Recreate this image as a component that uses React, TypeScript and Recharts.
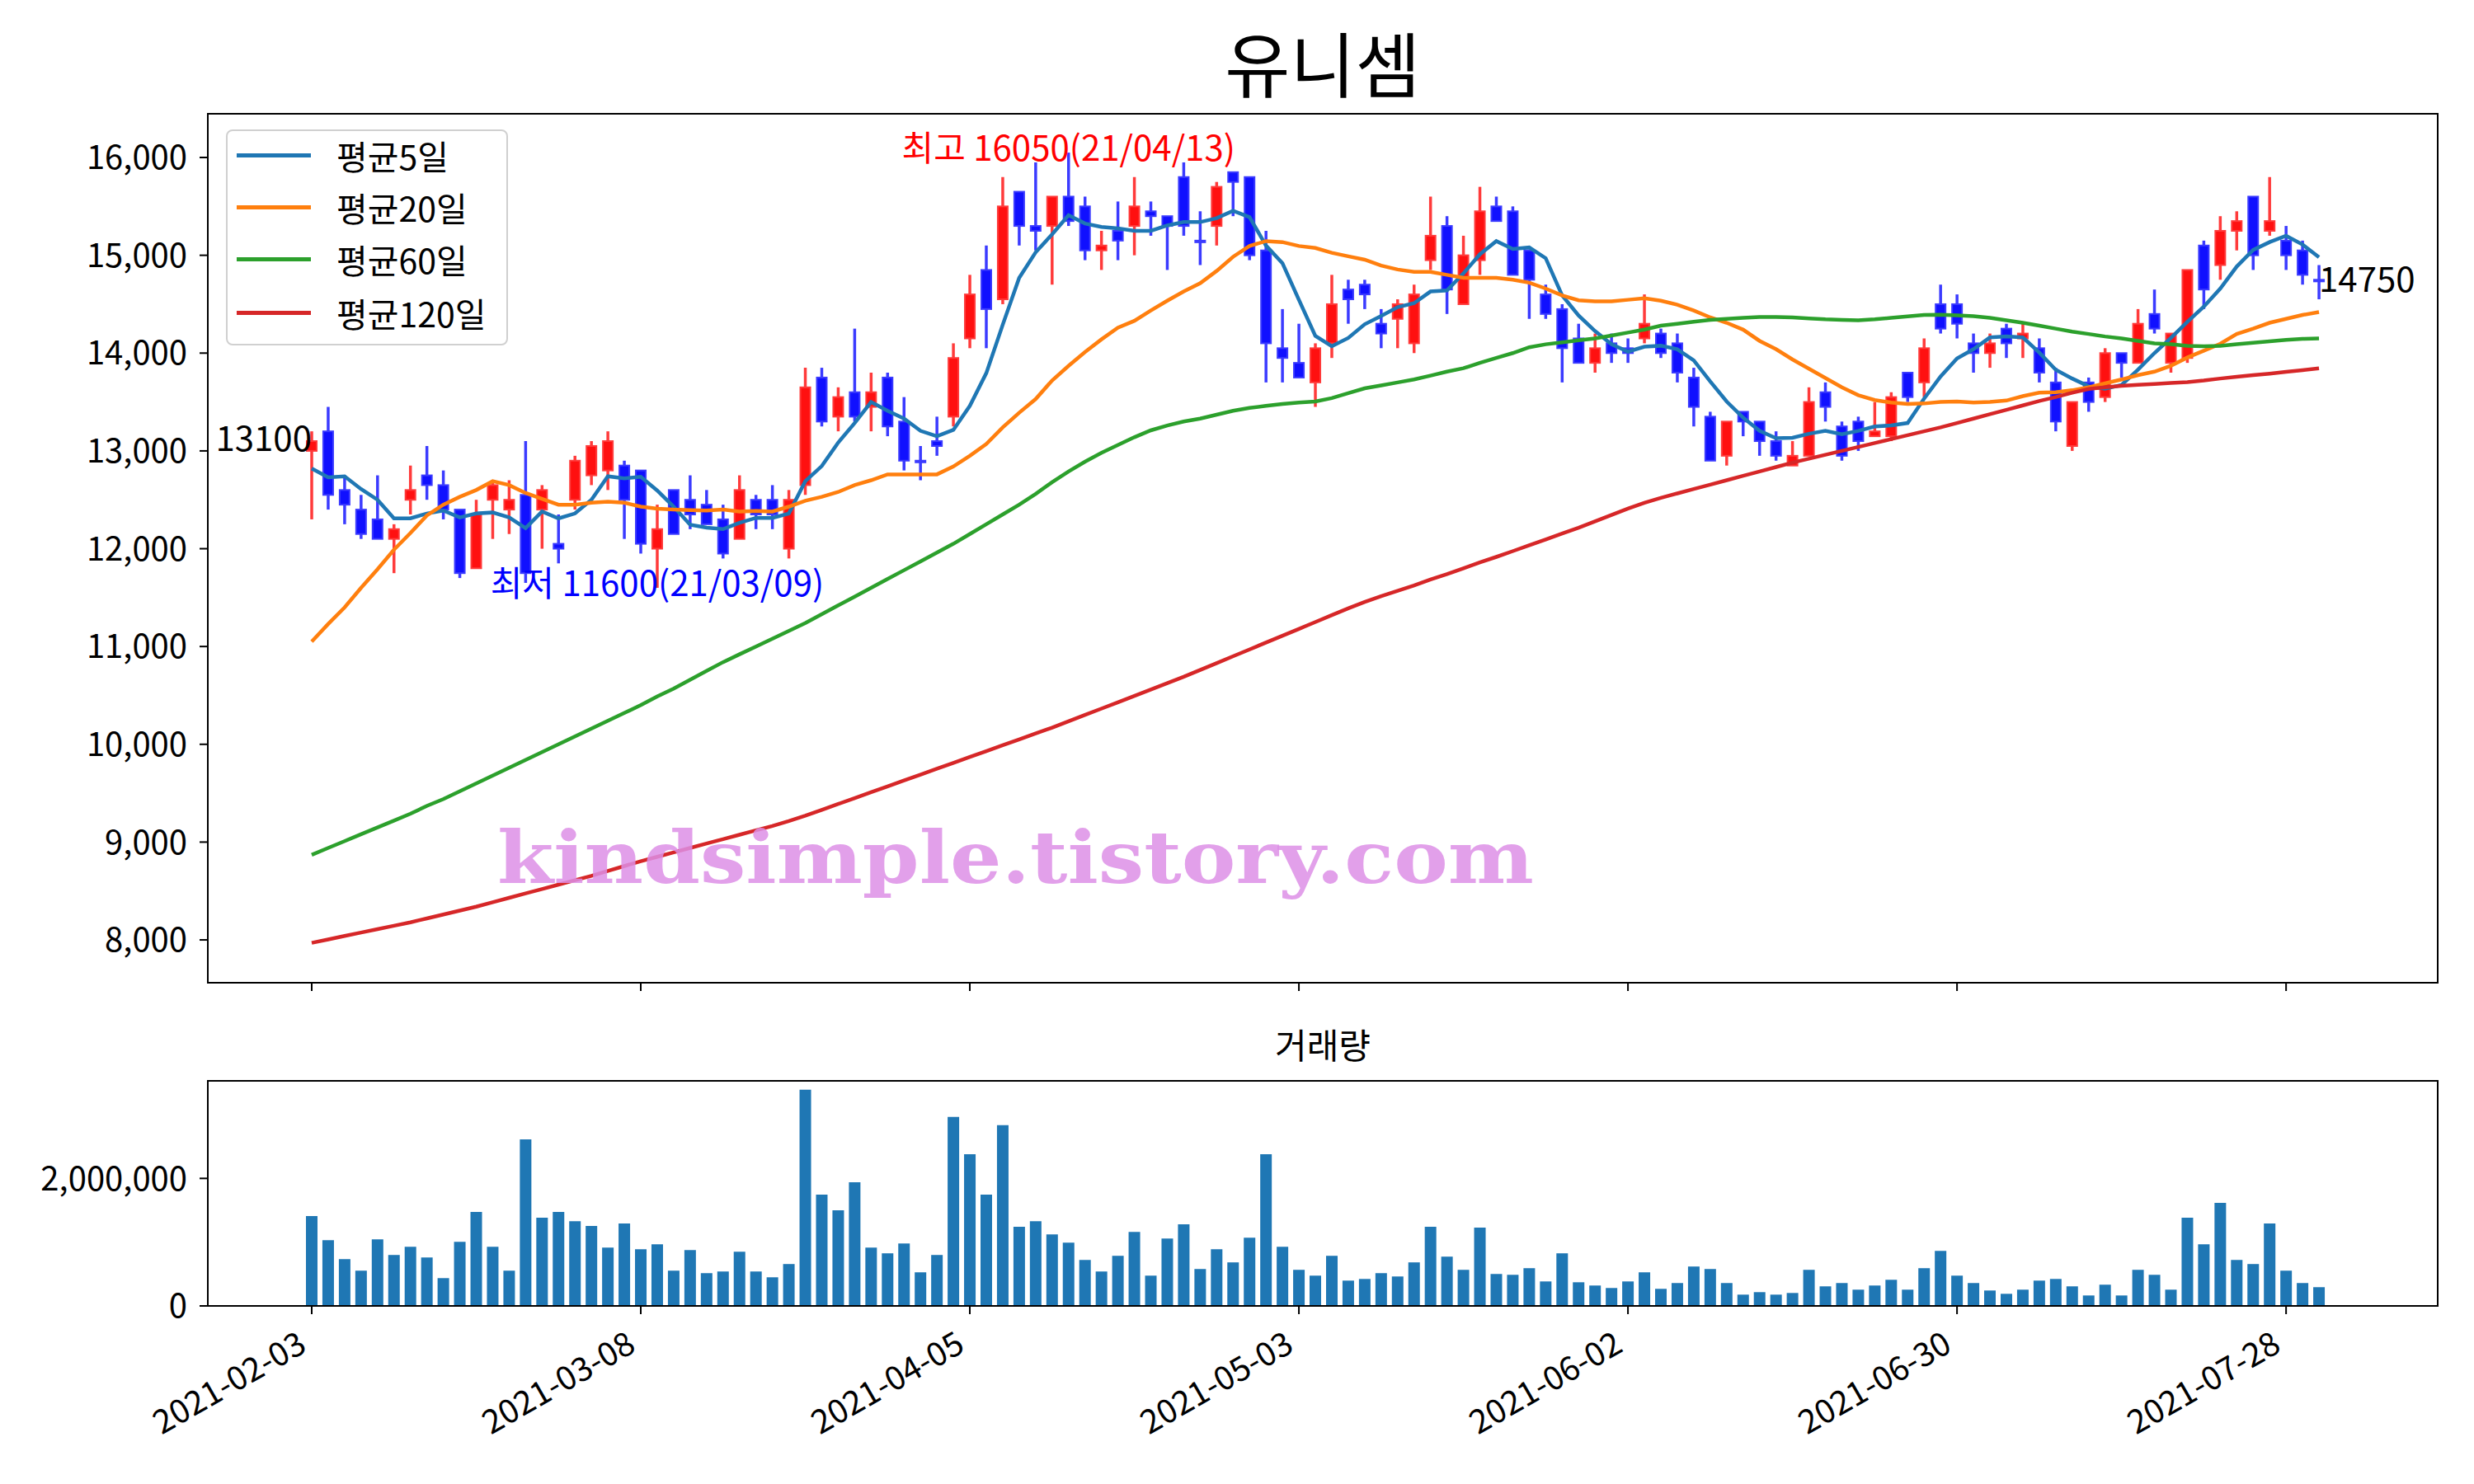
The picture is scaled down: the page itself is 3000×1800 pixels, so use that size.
import React from 'react';
import { ComposedChart, Bar, Line, XAxis, YAxis, ReferenceDot } from 'recharts';

// daily candles, 2021-02-03 .. 2021-07-30 (123 trading days)
const opens = [
  13000, 13200, 12600, 12400, 12300, 12100, 12500, 12750, 12650, 12400,
  11800, 12500, 12400, 12550, 12400, 12050, 12500, 12750, 12800, 12850,
  12800, 12000, 12600, 12500, 12450, 12300, 12100, 12500, 12500, 12000,
  12650, 13750, 13350, 13600, 13450, 13750, 13300, 12900, 13100, 13350,
  14150, 14850, 14550, 15650, 15300, 15300, 15600, 15500, 15050, 15250,
  15300, 15450, 15400, 15800, 15150, 15300, 15850, 15800, 15050, 14050,
  13900, 13700, 14100, 14650, 14700, 14300, 14350, 14100, 14950, 15300,
  14500, 14950, 15500, 15450, 15050, 14600, 14450, 14150, 13900, 14100,
  14050, 14150, 14200, 14100, 13750, 13350, 12950, 13400, 13300, 13100,
  12850, 12950, 13600, 13250, 13300, 13150, 13150, 13800, 13700, 14500,
  14500, 14100, 14000, 14250, 14150, 14050, 13700, 13050, 13700, 13550,
  14000, 13900, 14400, 13900, 13950, 15100, 14900, 15250, 15600, 15250,
  15150, 15050, 14750,
];
const highs = [
  13200, 13450, 12750, 12550, 12750, 12250, 12850, 13050, 12800, 12400,
  12500, 12700, 12700, 13100, 12650, 12350, 12950, 13100, 13200, 12900,
  12800, 12450, 12600, 12750, 12600, 12450, 12750, 12550, 12650, 12600,
  13850, 13850, 13650, 14250, 13800, 13800, 13550, 13050, 13350, 14100,
  14800, 15100, 15800, 15650, 15950, 15600, 16050, 15600, 15250, 15550,
  15800, 15550, 15400, 15950, 15450, 15750, 15850, 15800, 15250, 14450,
  14300, 14100, 14800, 14750, 14750, 14450, 14550, 14700, 15600, 15400,
  15200, 15700, 15600, 15500, 15050, 14700, 14500, 14300, 14200, 14200,
  14150, 14600, 14250, 14200, 13850, 13400, 13300, 13400, 13300, 13200,
  13100, 13650, 13700, 13300, 13350, 13500, 13600, 13800, 14150, 14700,
  14600, 14200, 14200, 14300, 14300, 14150, 13850, 13500, 13750, 14050,
  14000, 14450, 14650, 14200, 14850, 15150, 15400, 15450, 15600, 15800,
  15300, 15150, 14900,
];
const lows = [
  12300, 12400, 12250, 12100, 12100, 11750, 12350, 12500, 12300, 11700,
  11800, 12100, 12150, 11650, 12000, 11850, 12400, 12650, 12600, 12100,
  11950, 11600, 12150, 12200, 12250, 11900, 12100, 12200, 12200, 11900,
  12550, 13250, 13200, 13300, 13200, 13150, 12800, 12700, 12950, 13250,
  14050, 14050, 14500, 15100, 15050, 14700, 15300, 14950, 14850, 14950,
  15000, 15200, 14850, 15200, 14900, 15100, 15400, 14950, 13700, 13700,
  13750, 13450, 13950, 14300, 14450, 14050, 14050, 14000, 14850, 14400,
  14500, 14800, 15350, 14800, 14350, 14350, 13700, 13900, 13800, 13900,
  13900, 14100, 13950, 13700, 13250, 12900, 12850, 13150, 12950, 12900,
  12850, 12950, 13300, 12900, 13000, 13150, 13100, 13500, 13550, 14200,
  14150, 13800, 13850, 13950, 13950, 13700, 13200, 13000, 13400, 13500,
  13750, 13900, 14200, 13800, 13900, 14450, 14750, 15050, 14850, 15200,
  14850, 14700, 14550,
];
const closes = [
  13100, 12550, 12450, 12150, 12100, 12200, 12600, 12650, 12400, 11750,
  12350, 12650, 12500, 11750, 12600, 12000, 12900, 13050, 13100, 12500,
  12050, 12200, 12150, 12350, 12250, 11950, 12600, 12350, 12350, 12500,
  13650, 13300, 13550, 13350, 13600, 13250, 12900, 12900, 13050, 13950,
  14600, 14450, 15500, 15300, 15250, 15600, 15350, 15050, 15100, 15150,
  15500, 15400, 15300, 15300, 15150, 15700, 15750, 15000, 14100, 13950,
  13750, 14050, 14500, 14550, 14600, 14200, 14500, 14600, 15200, 14650,
  15000, 15450, 15350, 14800, 14750, 14400, 14050, 13900, 14050, 14000,
  14000, 14300, 14000, 13800, 13450, 12900, 13300, 13300, 13100, 12950,
  12950, 13500, 13450, 12950, 13100, 13200, 13550, 13550, 14050, 14250,
  14300, 14000, 14100, 14100, 14200, 13800, 13300, 13500, 13500, 14000,
  13900, 14300, 14250, 14200, 14850, 14650, 15250, 15350, 15000, 15350,
  15000, 14800, 14750,
];
const volumes = [
  1408000, 1032000, 734000, 553000, 1045000, 799000, 929000, 760000, 436000, 1006000,
  1473000, 929000, 553000, 2613000, 1382000, 1473000, 1330000, 1253000, 916000, 1292000,
  890000, 968000, 553000, 877000, 514000, 540000, 851000, 540000, 449000, 657000,
  3391000, 1745000, 1499000, 1940000, 916000, 825000, 981000, 527000, 799000, 2963000,
  2380000, 1745000, 2834000, 1240000, 1330000, 1123000, 994000, 721000, 540000, 786000,
  1162000, 475000, 1058000, 1279000, 579000, 890000, 683000, 1071000, 2380000, 929000,
  566000, 475000, 786000, 397000, 423000, 514000, 462000, 683000, 1240000, 773000,
  566000, 1227000, 501000, 488000, 592000, 384000, 825000, 371000, 320000, 281000,
  384000, 527000, 268000, 359000, 618000, 579000, 359000, 177000, 216000, 177000,
  203000, 566000, 307000, 359000, 255000, 320000, 410000, 255000, 592000, 864000,
  475000, 359000, 242000, 190000, 255000, 397000, 423000, 307000, 164000, 333000,
  164000, 566000, 488000, 255000, 1382000, 968000, 1616000, 721000, 657000, 1292000,
  553000, 359000, 294000,
];
const ma5 = [
  12820, 12730, 12740, 12610, 12500, 12310, 12310, 12360, 12390, 12320,
  12360, 12370, 12320, 12210, 12380, 12310, 12360, 12500, 12740, 12720,
  12735, 12595, 12430, 12245, 12215, 12200, 12265, 12315, 12315, 12360,
  12690, 12845, 13085, 13285, 13500, 13410, 13330, 13205, 13150, 13215,
  13460, 13795, 14290, 14770, 15030, 15215, 15410, 15325, 15290, 15275,
  15250, 15250, 15305, 15340, 15340, 15380, 15455, 15390, 15100, 14920,
  14545, 14175, 14070, 14155, 14295, 14380, 14470, 14510, 14630, 14640,
  14815, 15010, 15145, 15065, 15080, 14970, 14590, 14385, 14225, 14090,
  14015, 14065, 14075, 14040, 13925, 13710, 13505, 13340, 13205, 13130,
  13135, 13175, 13205, 13170, 13205, 13250, 13260, 13285, 13535, 13760,
  13945, 14040, 14160, 14170, 14160, 14005, 13830, 13740, 13660, 13635,
  13675, 13830, 14000, 14155, 14320, 14475, 14660, 14885, 15055, 15135,
  15200, 15110, 14980,
];
const ma20 = [
  11050, 11230, 11400, 11600, 11790, 11990, 12160, 12340, 12450, 12530,
  12600, 12690, 12650, 12570, 12510, 12450, 12450, 12470, 12480, 12470,
  12430, 12410, 12400, 12395, 12390, 12400, 12380, 12385, 12380, 12430,
  12490, 12530, 12580, 12650, 12700, 12760, 12760, 12760, 12760, 12840,
  12950, 13070, 13240, 13390, 13530, 13720, 13870, 14010, 14140, 14260,
  14330, 14435, 14535, 14630, 14715, 14840, 14985, 15095, 15145, 15135,
  15095, 15075, 15025, 14990, 14955, 14895, 14855, 14830, 14830, 14800,
  14770, 14770, 14770, 14750, 14720, 14660, 14590, 14540, 14530, 14530,
  14545, 14560, 14535, 14495, 14435, 14365, 14310, 14240, 14125, 14040,
  13935, 13840, 13745, 13650, 13570, 13520, 13495, 13480, 13485, 13500,
  13505, 13495, 13500, 13515, 13560, 13595, 13600, 13620, 13650, 13690,
  13730, 13775, 13810, 13870, 13955, 14025, 14095, 14195, 14250, 14310,
  14350, 14390, 14420,
];
const ma60 = [
  8870, 8940, 9010, 9080, 9150, 9220, 9290, 9370, 9440, 9520,
  9600, 9680, 9760, 9840, 9920, 10000, 10080, 10160, 10240, 10320,
  10400, 10490, 10570, 10660, 10750, 10840, 10920, 11000, 11080, 11160,
  11240, 11330, 11420, 11510, 11600, 11690, 11780, 11870, 11960, 12050,
  12150, 12250, 12350, 12450, 12560, 12680, 12790, 12890, 12980, 13060,
  13140, 13210, 13260, 13300, 13330, 13370, 13410, 13440, 13460, 13480,
  13495, 13505, 13540, 13590, 13640, 13670, 13700, 13730, 13770, 13810,
  13845, 13900, 13950, 14000, 14060, 14090, 14110, 14130, 14150, 14180,
  14210, 14240, 14280, 14300, 14320, 14340, 14350, 14360, 14370, 14370,
  14365, 14355, 14345, 14340, 14335, 14345, 14360, 14375, 14390, 14392,
  14385, 14378, 14360, 14335, 14310, 14280, 14250, 14220, 14195, 14170,
  14150, 14125, 14100, 14090, 14075, 14070, 14075, 14090, 14105, 14120,
  14135, 14145, 14150,
];
const ma120 = [
  7970, 8005, 8040, 8075, 8110, 8145, 8180, 8220, 8260, 8300,
  8340, 8385, 8430, 8475, 8520, 8565, 8610, 8655, 8705, 8755,
  8805, 8850, 8895, 8940, 8985, 9030, 9075, 9120, 9165, 9215,
  9270, 9330, 9390, 9450, 9510, 9570, 9630, 9690, 9750, 9810,
  9870, 9930, 9990, 10050, 10110, 10170, 10235, 10300, 10365, 10430,
  10495, 10560, 10625, 10690, 10760, 10830, 10900, 10970, 11040, 11110,
  11180, 11250, 11320, 11390, 11455, 11515, 11570, 11625, 11685, 11740,
  11800, 11860, 11916, 11975, 12035, 12095, 12155, 12215, 12280, 12345,
  12410, 12470, 12520, 12565, 12610, 12655, 12700, 12745, 12790, 12835,
  12880, 12920, 12960, 13000, 13040, 13080, 13120, 13160, 13200, 13240,
  13285, 13330, 13375, 13420, 13465, 13510, 13550, 13595, 13634, 13650,
  13665, 13676, 13685, 13695, 13704, 13720, 13740, 13757, 13774, 13790,
  13808, 13826, 13844,
];
const tickLabels = ['2021-02-03', '2021-03-08', '2021-04-05', '2021-05-03', '2021-06-02', '2021-06-30', '2021-07-28'];

const rows = closes.map((c, i) => ({
  idx: i,
  open: opens[i],
  high: highs[i],
  low: lows[i],
  close: c,
  vol: volumes[i],
  ma5: ma5[i],
  ma20: ma20[i],
  ma60: ma60[i],
  ma120: ma120[i],
}));

const FONT = '"Noto Sans CJK KR", "Noto Sans", sans-serif';
const TICK_FS = 40;
const ANNO_FS = 42;
const PAD = { left: 116, right: 134 };

const series = [
  { key: 'ma5', name: '평균5일', color: '#1f77b4' },
  { key: 'ma20', name: '평균20일', color: '#ff7f0e' },
  { key: 'ma60', name: '평균60일', color: '#2ca02c' },
  { key: 'ma120', name: '평균120일', color: '#d62728' },
];

const Candle = (props: any) => {
  const { x, y, width, height, payload } = props;
  if (!payload || height == null) return null;
  const { open, close, high, low } = payload;
  const up = close > open;
  const fill = up ? '#ff1010' : '#1010ff';
  const edge = up ? '#ff3b3b' : '#3b3bff';
  const span = high - low;
  const k = span > 0 ? height / span : 0;
  const py = (v: number) => y + (high - v) * k;
  const cx = x + width / 2;
  const top = py(Math.max(open, close));
  const bot = py(Math.min(open, close));
  return (
    <g>
      <line x1={cx} x2={cx} y1={y} y2={y + height} stroke={edge} strokeWidth={3.5} />
      <rect x={x + 1} y={top} width={width - 2} height={Math.max(bot - top, 2)} fill={fill} stroke={edge} strokeWidth={2} />
    </g>
  );
};

const AnnoLabel = (props: any) => {
  const { viewBox, text, color, anchor, dy = 0 } = props;
  if (!viewBox) return null;
  const cx = viewBox.x + (viewBox.width || 0) / 2;
  const cy = viewBox.y + (viewBox.height || 0) / 2 + dy;
  return (
    <text x={cx} y={cy} fill={color} textAnchor={anchor} dominantBaseline="central" fontSize={ANNO_FS} fontFamily={FONT}>
      {text}
    </text>
  );
};

const DateTick = (props: any) => {
  const { x, y, payload } = props;
  const label = tickLabels[Math.round(payload.value / 20)] || '';
  const bx = x - 4;
  const by = y + 44;
  return (
    <text x={bx} y={by} textAnchor="end" transform={`rotate(-30 ${bx} ${by})`} fontSize={TICK_FS} fontFamily={FONT} fill="#000">
      {label}
    </text>
  );
};

const fmt = (v: number) => v.toLocaleString('en-US');

const frame = (left: number, top: number, right: number, bottom: number): React.CSSProperties => ({
  position: 'absolute',
  left: left - 1,
  top: top - 1,
  width: right - left + 2,
  height: bottom - top + 2,
  border: '2px solid #000',
  boxSizing: 'border-box',
  pointerEvents: 'none',
});

export default function App() {
  return (
    <div style={{ position: 'absolute', left: 0, top: 0, width: 3000, height: 1800, background: '#fff', fontFamily: FONT }}>
      <div style={{ position: 'absolute', left: 0, width: 3208, top: 75, transform: 'translateY(-50%)', textAlign: 'center', fontSize: 86, lineHeight: 1 }}>
        유니셈
      </div>

      <div style={{ position: 'absolute', left: 0, top: 0 }}>
        <ComposedChart width={3000} height={1230} data={rows} margin={{ top: 138, right: 44, bottom: 18, left: 132 }}>
          <XAxis
            dataKey="idx"
            type="category"
            interval={19}
            padding={PAD}
            axisLine={false}
            tickLine={{ stroke: '#000', strokeWidth: 2 }}
            tickSize={10}
            tickFormatter={() => ''}
            height={20}
          />
          <YAxis
            type="number"
            domain={[7562, 16447]}
            allowDataOverflow
            ticks={[8000, 9000, 10000, 11000, 12000, 13000, 14000, 15000, 16000]}
            tickFormatter={fmt}
            width={120}
            axisLine={false}
            tickLine={{ stroke: '#000', strokeWidth: 2 }}
            tickSize={10}
            tickMargin={15}
            tick={{ fontSize: TICK_FS, fill: '#000', fontFamily: FONT }}
          />
          <Bar dataKey={(d: any) => [d.low, d.high]} barSize={14} shape={<Candle />} isAnimationActive={false} />
          {series.map((s) => (
            <Line key={s.key} type="linear" dataKey={s.key} stroke={s.color} strokeWidth={4.5} dot={false} activeDot={false} isAnimationActive={false} />
          ))}
          <ReferenceDot x={46} y={16050} r={1} fill="none" stroke="none" label={<AnnoLabel text="최고 16050(21/04/13)" color="#ff0000" anchor="middle" dy={-9} />} />
          <ReferenceDot x={21} y={11600} r={1} fill="none" stroke="none" label={<AnnoLabel text="최저 11600(21/03/09)" color="#0000ff" anchor="middle" dy={-8} />} />
          <ReferenceDot x={0} y={13100} r={1} fill="none" stroke="none" label={<AnnoLabel text="13100" color="#000" anchor="end" dy={-7} />} />
          <ReferenceDot x={122} y={14750} r={1} fill="none" stroke="none" label={<AnnoLabel text="14750" color="#000" anchor="start" dy={-4} />} />
        </ComposedChart>
      </div>

      <svg width={3000} height={1800} style={{ position: 'absolute', left: 0, top: 0, pointerEvents: 'none' }}>
        <text x={603} y={1071} fontSize={88} fontWeight="bold" fontFamily='"DejaVu Serif", serif' fill="#dd8fe6" fillOpacity={0.85} textLength={1257} lengthAdjust="spacingAndGlyphs">
          kindsimple.tistory.com
        </text>
      </svg>

      <div style={frame(252, 138, 2956, 1192)} />

      <div style={{ position: 'absolute', left: 274, top: 157, width: 342, height: 262, border: '2px solid #d0d0d0', borderRadius: 8, background: 'rgba(255,255,255,0.8)', boxSizing: 'border-box' }}>
        {series.map((s, i) => (
          <div key={s.key} style={{ position: 'absolute', left: 0, top: [31, 94, 157, 222][i] - 2, width: '100%', height: 0 }}>
            <div style={{ position: 'absolute', left: 11, top: -2, width: 90, height: 4.5, background: s.color }} />
            <div style={{ position: 'absolute', left: 132, top: 0, transform: 'translateY(-50%)', fontSize: 41, lineHeight: 1, whiteSpace: 'nowrap' }}>
              {s.name}
            </div>
          </div>
        ))}
      </div>

      <div style={{ position: 'absolute', left: 0, width: 3208, top: 1266, transform: 'translateY(-50%)', textAlign: 'center', fontSize: 42, lineHeight: 1 }}>
        거래량
      </div>

      <div style={{ position: 'absolute', left: 0, top: 1240 }}>
        <ComposedChart width={3000} height={560} data={rows} margin={{ top: 71, right: 44, bottom: 66, left: 132 }}>
          <XAxis
            dataKey="idx"
            type="category"
            interval={19}
            padding={PAD}
            axisLine={false}
            tickLine={{ stroke: '#000', strokeWidth: 2 }}
            tickSize={10}
            tickMargin={0}
            tick={<DateTick />}
            height={150}
          />
          <YAxis
            type="number"
            domain={[0, 3530000]}
            allowDataOverflow
            ticks={[0, 2000000]}
            tickFormatter={fmt}
            width={120}
            axisLine={false}
            tickLine={{ stroke: '#000', strokeWidth: 2 }}
            tickSize={10}
            tickMargin={15}
            tick={{ fontSize: TICK_FS, fill: '#000', fontFamily: FONT }}
          />
          <Bar dataKey="vol" barSize={14} fill="#1f77b4" isAnimationActive={false} />
        </ComposedChart>
      </div>

      <div style={frame(252, 1311, 2956, 1584)} />
    </div>
  );
}
